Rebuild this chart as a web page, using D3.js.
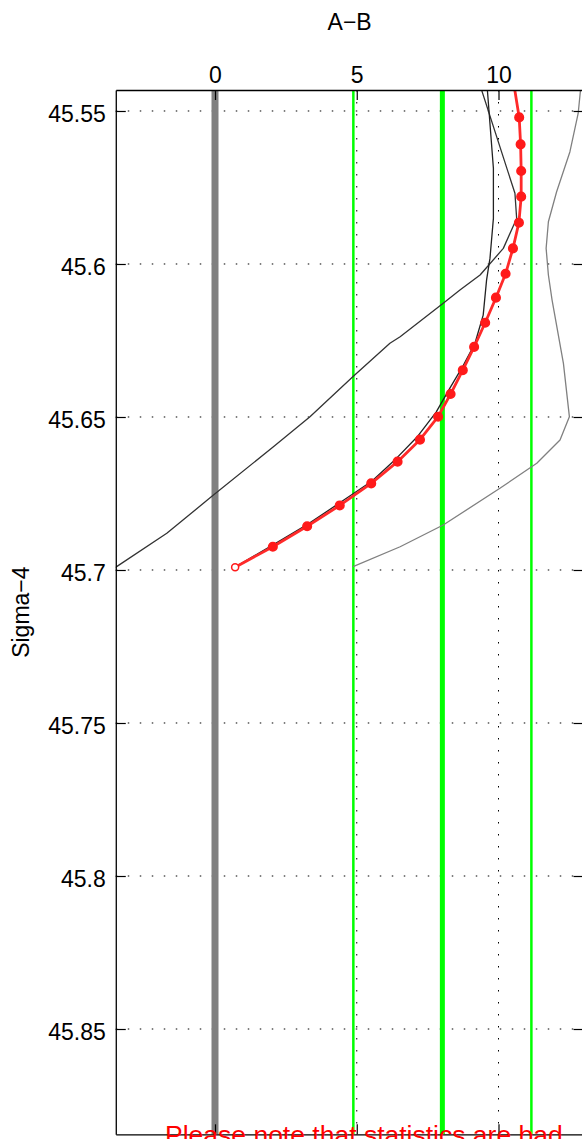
<!doctype html>
<html>
   <head>
      <meta charset="utf-8">
      <title>D3.js</title>
      <style>
         body { margin: 0; background: #FFFFFF; }
         svg { display: block; }
         text { font-family: "Liberation Sans", Arial, Helvetica, sans-serif; }
      </style>
   </head>
   <body>
      <div id="here"></div>
      <script src="https://d3js.org/d3.v7.min.js"></script>
      <script>
         var w = 582, h = 1139;

         // ticks
         var xTicks = [0, 5, 10];
         var yTicks = [45.55, 45.6, 45.65, 45.7, 45.75, 45.8, 45.85];
         var yTickLabels = ["45.55", "45.6", "45.65", "45.7", "45.75", "45.8", "45.85"];

         // vertical reference lines
         var grayLine = [0];
         var greenThin = [4.88, 11.16];
         var greenThick = [8.02];

         // red profile (with markers)
         var redX = [10.52, 10.73, 10.78, 10.80, 10.80, 10.72, 10.51, 10.25, 9.91, 9.53, 9.14, 8.74, 8.31, 7.87, 7.23, 6.44, 5.51, 4.40, 3.25, 2.04, 0.71];
         var redY = [45.540, 45.5521, 45.5609, 45.5696, 45.5780, 45.5865, 45.5949, 45.6032, 45.6110, 45.6192, 45.6271, 45.6347, 45.6425, 45.6499, 45.6574, 45.6646, 45.6717, 45.6789, 45.6857, 45.6924, 45.6991];

         // dark profile crossing to the left
         var darkAX = [9.12, 10.58, 10.64, 10.17, 9.35, 8.64, 8.05, 6.53, 6.17, 4.87, 3.35, 2.06, -0.12, -1.70, -3.47, -4.5];
         var darkAY = [45.535, 45.5769, 45.5851, 45.5949, 45.6036, 45.6085, 45.6128, 45.6238, 45.6259, 45.6368, 45.6499, 45.6597, 45.6760, 45.6880, 45.6989, 45.7052];

         // dark profile under the red one
         var darkBX = [9.54, 9.82, 9.82, 9.70, 9.58, 9.46, 9.41, 9.17, 8.75, 8.29, 7.80, 7.16, 6.38, 5.54, 4.44, 3.28, 2.05, 0.71];
         var darkBY = [45.535, 45.5687, 45.5851, 45.5981, 45.6052, 45.6167, 45.6183, 45.6259, 45.6333, 45.6405, 45.6484, 45.6562, 45.6637, 45.6709, 45.6778, 45.6850, 45.6918, 45.6990];

         // gray profile on the right
         var grayX = [12.98, 12.81, 12.52, 12.05, 11.76, 11.68, 11.76, 11.89, 12.29, 12.50, 12.17, 11.35, 10.05, 8.05, 6.53, 4.87];
         var grayY = [45.535, 45.5508, 45.5633, 45.5764, 45.5862, 45.5949, 45.6036, 45.6118, 45.6325, 45.6499, 45.6575, 45.6651, 45.6733, 45.6853, 45.6924, 45.6989];

         var x = d3.scaleLinear().domain([-3.5, 13]).range([115.78, 583.55]);
         var y = d3.scaleLinear().domain([45.54314, 45.88441]).range([90, 1134.3]);

         var x0 = x.range()[0], x1 = x.range()[1], y0 = y.range()[0], y1 = y.range()[1];

         var viz = d3.select("#here")
           .append("svg")
           .attr("width", w)
           .attr("height", h);

         viz.append("clipPath").attr("id", "plot")
           .append("rect")
           .attr("x", x0).attr("y", y0)
           .attr("width", x1 - x0).attr("height", y1 - y0);

         // dotted grid
         var grid = viz.append("g")
           .attr("stroke", "#000")
           .attr("stroke-width", 1)
           .attr("stroke-dasharray", "1.5,10.5");

         grid.selectAll("line.h")
           .data(yTicks)
           .enter().append("line")
           .attr("x1", x0).attr("x2", x1)
           .attr("y1", function(d) { return y(d); })
           .attr("y2", function(d) { return y(d); });

         grid.selectAll("line.v")
           .data(xTicks)
           .enter().append("line")
           .attr("y1", y0).attr("y2", y1)
           .attr("x1", function(d) { return x(d); })
           .attr("x2", function(d) { return x(d); });

         var plot = viz.append("g").attr("clip-path", "url(#plot)");

         function vlines(data, color, width) {
           plot.selectAll(null)
             .data(data)
             .enter().append("line")
             .attr("x1", function(d) { return x(d); })
             .attr("x2", function(d) { return x(d); })
             .attr("y1", y0).attr("y2", y1)
             .attr("stroke", color)
             .attr("stroke-width", width);
         }

         vlines(grayLine, "#808080", 7);
         vlines(greenThin, "#00FF00", 2.5);
         vlines(greenThick, "#00FF00", 5);

         function profile(xs, ys, color, width) {
           var line = d3.line()
             .x(function(d) { return x(d[0]); })
             .y(function(d) { return y(d[1]); });
           plot.append("path")
             .datum(d3.zip(xs, ys))
             .attr("d", line)
             .attr("fill", "none")
             .attr("stroke", color)
             .attr("stroke-width", width)
             .attr("stroke-linejoin", "round");
         }

         profile(grayX, grayY, "#808080", 1.3);
         profile(darkAX, darkAY, "#333333", 1.3);
         profile(darkBX, darkBY, "#222222", 1.3);
         profile(redX, redY, "#FF2A2A", 2.8);

         var redPts = d3.zip(redX, redY);
         plot.selectAll("circle")
           .data(redPts)
           .enter().append("circle")
           .attr("cx", function(d) { return x(d[0]); })
           .attr("cy", function(d) { return y(d[1]); })
           .attr("r", function(d, i) { return i == redPts.length - 1 ? 3.5 : 4.3; })
           .attr("fill", function(d, i) { return i == redPts.length - 1 ? "#FFFFFF" : "#FF1A1A"; })
           .attr("stroke", "#FF1A1A")
           .attr("stroke-width", 1.5);

         // axes, ticks inside like matlab
         var left = viz.append("g")
           .attr("transform", "translate(" + x0 + ",0)")
           .call(d3.axisLeft(y).tickValues(yTicks)
             .tickFormat(function(d, i) { return yTickLabels[i]; })
             .tickSizeInner(-10).tickSizeOuter(0).tickPadding(10));

         var top = viz.append("g")
           .attr("transform", "translate(0," + y0 + ")")
           .call(d3.axisTop(x).tickValues(xTicks)
             .tickSizeInner(-10).tickSizeOuter(0).tickPadding(7));

         viz.append("g")
           .attr("transform", "translate(0," + y1 + ")")
           .call(d3.axisBottom(x).tickValues(xTicks)
             .tickFormat("").tickSizeInner(-10).tickSizeOuter(0));

         viz.append("g")
           .attr("transform", "translate(" + x1 + ",0)")
           .call(d3.axisRight(y).tickValues(yTicks)
             .tickFormat("").tickSizeInner(-10).tickSizeOuter(0));

         viz.selectAll(".domain").attr("stroke", "#000").attr("stroke-width", 1.3);
         viz.selectAll(".tick line").attr("stroke", "#000").attr("stroke-width", 1.2);
         viz.selectAll(".tick text")
           .attr("font-size", 23)
           .attr("fill", "#000")
           .attr("font-family", "Liberation Sans, Arial, sans-serif");
         left.selectAll(".tick text").attr("dy", "0.46em");

         viz.append("text")
           .attr("x", (x0 + x1) / 2)
           .attr("y", 30)
           .attr("text-anchor", "middle")
           .attr("font-size", 23)
           .text("A\u2212B");

         viz.append("text")
           .attr("transform", "translate(29," + (y0 + y1) / 2 + ") rotate(-90)")
           .attr("text-anchor", "middle")
           .attr("font-size", 23)
           .text("Sigma\u22124");

         viz.append("text")
           .attr("x", 165)
           .attr("y", 1144)
           .attr("font-size", 26.5)
           .attr("fill", "#FF0000")
           .text("Please note that statistics are bad");
      </script>
   </body>
</html>
